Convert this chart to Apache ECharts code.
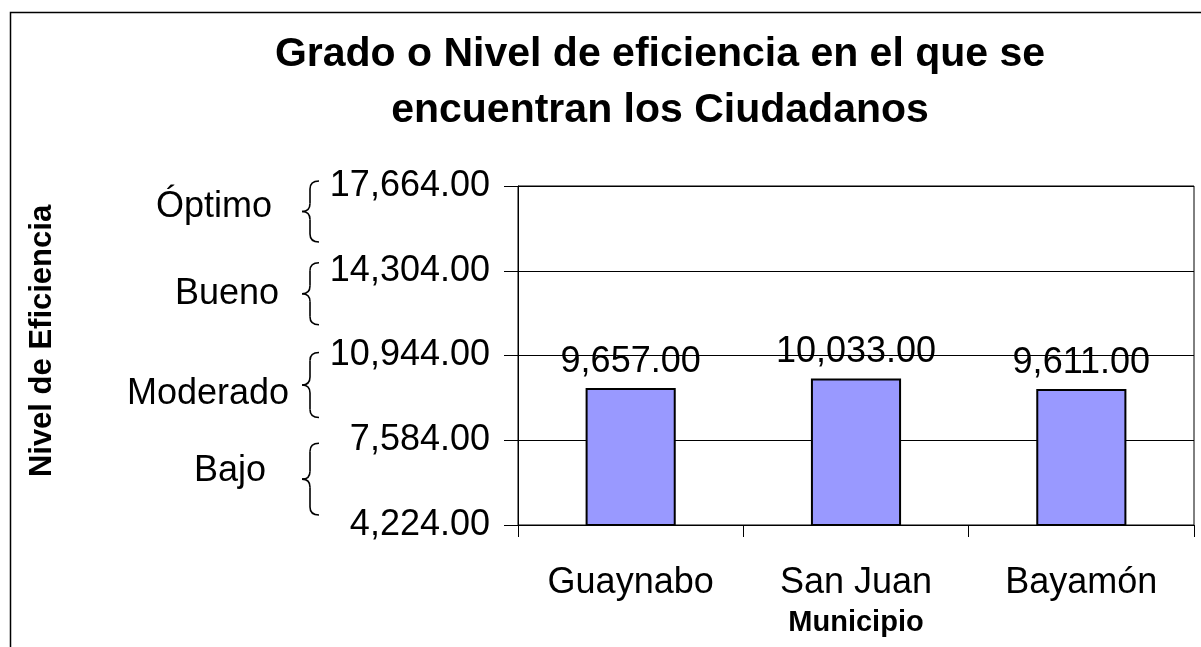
<!DOCTYPE html>
<html>
<head>
<meta charset="utf-8">
<script src="https://cdn.jsdelivr.net/npm/echarts@6/dist/echarts.min.js"></script>
<style>
  html, body { margin: 0; padding: 0; background: #fff; }
  #chart { width: 1201px; height: 647px; }
</style>
</head>
<body>
<div id="chart"></div>
<script>
// Municipalities and their efficiency score
const categories = ['Guaynabo', 'San Juan', 'Bayamón'];
const values = [9657, 10033, 9611];

// Value scale: four efficiency bands of equal width
const axisMin = 4224;
const axisMax = 17664;
const axisStep = 3360;
const levels = ['Bajo', 'Moderado', 'Bueno', 'Óptimo'];

const FONT = "'Liberation Sans', Arial, sans-serif";
const fmt = v => Number(v).toLocaleString('en-US', { minimumFractionDigits: 2, maximumFractionDigits: 2 });

const chart = echarts.init(document.getElementById('chart'), null, { renderer: 'canvas' });

chart.setOption({
  animation: false,
  backgroundColor: '#ffffff',
  textStyle: { fontFamily: FONT },
  title: {
    text: 'Grado o Nivel de eficiencia en el que se\nencuentran los Ciudadanos',
    left: 655,
    top: 22,
    textAlign: 'center',
    textStyle: { fontFamily: FONT, fontSize: 41, fontWeight: 'bold', color: '#000', lineHeight: 56 }
  },
  grid: {
    left: 518, right: 7, top: 186, bottom: 122,
    show: true, borderColor: '#000', borderWidth: 1, backgroundColor: 'transparent'
  },
  xAxis: {
    type: 'category',
    data: categories,
    axisLine: { lineStyle: { color: '#000', width: 1 } },
    axisTick: { show: true, length: 12, lineStyle: { color: '#000' } },
    axisLabel: { margin: 40, fontSize: 36, color: '#000', fontFamily: FONT }
  },
  yAxis: {
    type: 'value',
    min: axisMin,
    max: axisMax,
    interval: axisStep,
    axisLine: { show: true, lineStyle: { color: '#000', width: 1 } },
    axisTick: { show: true, length: 14, lineStyle: { color: '#000' } },
    axisLabel: { margin: 28, fontSize: 36, color: '#000', fontFamily: FONT, formatter: fmt },
    splitLine: { show: true, lineStyle: { color: '#000', width: 1 } }
  },
  series: [{
    type: 'bar',
    data: values,
    barCategoryGap: '60%',
    itemStyle: { color: '#9999FF', borderColor: '#000', borderWidth: 2 },
    label: {
      show: true, position: 'top', distance: 8,
      fontSize: 36, color: '#000', fontFamily: FONT,
      formatter: p => fmt(p.value)
    }
  }]
});

// Band braces and names to the left of the value axis
const braceTip = 302, braceStem = 310, braceEnd = 319, hook = 8;
const braceTopShift = [3, -3, -8, -5];
const braceBottomShift = [-10, 62, 54, 56];
const labelRight = [266, 289, 279, 272];
const labelShift = [-8, 9, 0, -4];

const graphics = [];
levels.forEach((name, i) => {
  const lo = axisMin + i * axisStep;
  const hi = lo + axisStep;
  const yHi = chart.convertToPixel({ yAxisIndex: 0 }, hi);
  const yLo = chart.convertToPixel({ yAxisIndex: 0 }, lo);
  const top = yHi + braceTopShift[i];
  const bottom = i === 0 ? yLo + braceBottomShift[i] : yHi + braceBottomShift[i];
  const mid = (top + bottom) / 2;
  const st = { stroke: '#000', lineWidth: 1.6, fill: null };
  graphics.push(
    { type: 'bezierCurve', shape: { x1: braceEnd, y1: top, x2: braceStem, y2: top + hook, cpx1: braceStem, cpy1: top }, style: st },
    { type: 'line', shape: { x1: braceStem, y1: top + hook, x2: braceStem, y2: mid - hook }, style: st },
    { type: 'bezierCurve', shape: { x1: braceStem, y1: mid - hook, x2: braceTip, y2: mid, cpx1: braceStem, cpy1: mid }, style: st },
    { type: 'bezierCurve', shape: { x1: braceTip, y1: mid, x2: braceStem, y2: mid + hook, cpx1: braceStem, cpy1: mid }, style: st },
    { type: 'line', shape: { x1: braceStem, y1: mid + hook, x2: braceStem, y2: bottom - hook }, style: st },
    { type: 'bezierCurve', shape: { x1: braceStem, y1: bottom - hook, x2: braceEnd, y2: bottom, cpx1: braceStem, cpy1: bottom }, style: st },
    {
      type: 'text',
      style: {
        text: name, x: labelRight[i], y: mid + labelShift[i],
        align: 'right', verticalAlign: 'middle',
        font: '36px ' + FONT, fill: '#000'
      }
    }
  );
});

// Axis titles and the outer chart frame
graphics.push(
  {
    type: 'text', rotation: Math.PI / 2, x: 42, y: 341,
    style: { text: 'Nivel de Eficiencia', x: 0, y: 0, align: 'center', verticalAlign: 'middle', font: 'bold 31px ' + FONT, fill: '#000' }
  },
  {
    type: 'text', x: 856, y: 623,
    style: { text: 'Municipio', x: 0, y: 0, align: 'center', verticalAlign: 'middle', font: 'bold 29px ' + FONT, fill: '#000' }
  },
  {
    type: 'rect', shape: { x: 10.5, y: 12.5, width: 1400, height: 900 },
    style: { stroke: '#000', lineWidth: 1.5, fill: null }, silent: true
  }
);

chart.setOption({ graphic: graphics });
</script>
</body>
</html>
